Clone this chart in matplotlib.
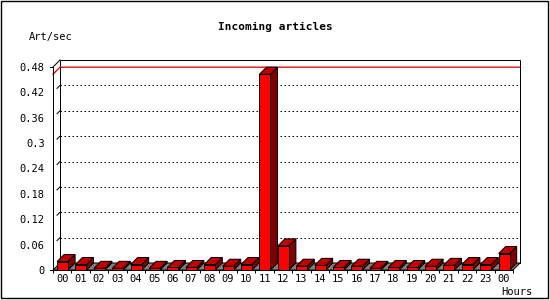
import numpy as np
import matplotlib
matplotlib.use("Agg")
import matplotlib.pyplot as plt
from matplotlib.patches import Polygon, Rectangle

hours = ["00", "01", "02", "03", "04", "05", "06", "07", "08", "09", "10", "11",
         "12", "13", "14", "15", "16", "17", "18", "19", "20", "21", "22", "23", "00"]
rate = [0.020, 0.013, 0.004, 0.004, 0.013, 0.004, 0.006, 0.006, 0.013, 0.009, 0.013, 0.463,
        0.057, 0.009, 0.011, 0.006, 0.009, 0.004, 0.006, 0.006, 0.009, 0.011, 0.013, 0.013, 0.039]
levels = [0, 0.06, 0.12, 0.18, 0.24, 0.3, 0.36, 0.42, 0.48]
level_labels = ["0", "0.06", "0.12", "0.18", "0.24", "0.3", "0.36", "0.42", "0.48"]

W, H = 550, 300
mono = "DejaVu Sans Mono"
lw = 0.72  # one pixel

fig = plt.figure(figsize=(W / 100, H / 100), dpi=100)
# front plane of the plot, in pixels: x 53..513, y 67..270
ax = fig.add_axes([53 / W, (H - 270) / H, 460 / W, 203 / H])
n = len(rate)
ymax = levels[-1]
ax.set_xlim(0, n)
ax.set_ylim(0, ymax)
for s in ax.spines.values():
    s.set_visible(False)
ax.set_facecolor("none")

# depth of the 3d effect, 7px right and 7px up
ux = n / 460.0
uy = ymax / 203.0
dx, dy = 7 * ux, 7 * uy

# back wall
ax.add_patch(Rectangle((dx, dy), n, ymax, facecolor="white", edgecolor="black",
                       lw=lw, clip_on=False, zorder=1))
for v in levels[1:-1]:
    ax.plot([dx, n + dx], [v + dy, v + dy], color="black", lw=lw,
            linestyle=(0, (1.5, 2.5)), clip_on=False, zorder=2)
    ax.plot([4 * ux, dx], [v + 4 * uy, v + dy], color="black", lw=lw,
            clip_on=False, zorder=2)

# max line
m = max(rate)
ax.plot([0, dx, n + dx], [m, m + dy, m + dy], color="#e00000", lw=lw * 1.3,
        clip_on=False, zorder=3)

# floor
ax.add_patch(Polygon([(0, 0), (n, 0), (n + dx, dy), (dx, dy)], closed=True,
                     facecolor="#808080", edgecolor="black", lw=lw,
                     clip_on=False, zorder=4))

# bars
bw = 0.6
for i, v in enumerate(rate):
    x0 = i + 0.22
    x1 = x0 + bw
    ec = dict(edgecolor="black", lw=lw, clip_on=False, zorder=5)
    ax.add_patch(Polygon([(x1, 0), (x1 + dx, dy), (x1 + dx, v + dy), (x1, v)],
                         facecolor="#800000", **ec))
    ax.add_patch(Polygon([(x0, v), (x1, v), (x1 + dx, v + dy), (x0 + dx, v + dy)],
                         facecolor="#c00000", **ec))
    ax.add_patch(Rectangle((x0, 0), bw, v, facecolor="#ff0000", **ec))

# front edges of the frame
ax.plot([0, 0], [0, ymax], color="black", lw=lw, clip_on=False, zorder=6)
ax.plot([0, dx], [ymax, ymax + dy], color="black", lw=lw, clip_on=False, zorder=6)
ax.plot([0, n], [0, 0], color="black", lw=lw, clip_on=False, zorder=6)
ax.plot([-3 * ux, 0], [ymax, ymax], color="black", lw=lw, clip_on=False, zorder=6)
ax.plot([-3 * ux, 0], [0, 0], color="black", lw=lw, clip_on=False, zorder=6)

ax.set_xticks(np.arange(n) + 0.5)
ax.set_xticklabels(hours, fontfamily=mono, fontsize=7.5)
ax.set_xticks(np.arange(n + 1), minor=True)
ax.tick_params(axis="x", which="major", length=0, pad=3)
ax.tick_params(axis="x", which="minor", length=3 * 0.72, width=lw, direction="out")
ax.set_yticks(levels)
ax.set_yticklabels(level_labels, fontfamily=mono, fontsize=7.5)
ax.tick_params(axis="y", length=0, pad=6)

fig.text(275 / W, 1 - 27 / H, "Incoming articles", ha="center", va="center",
         fontfamily=mono, fontweight="bold", fontsize=8)
fig.text(29 / W, 1 - 37 / H, "Art/sec", ha="left", va="center",
         fontfamily=mono, fontsize=7.5)
fig.text(533 / W, 1 - 295 / H, "Hours", ha="right", va="baseline",
         fontfamily=mono, fontsize=7.5)

fig.patches.append(Rectangle((0.5 / W, 2.5 / H), 547 / W, 297 / H,
                             transform=fig.transFigure, fill=False,
                             edgecolor="black", lw=lw * 1.4))

fig.savefig("out.png", dpi=100)
